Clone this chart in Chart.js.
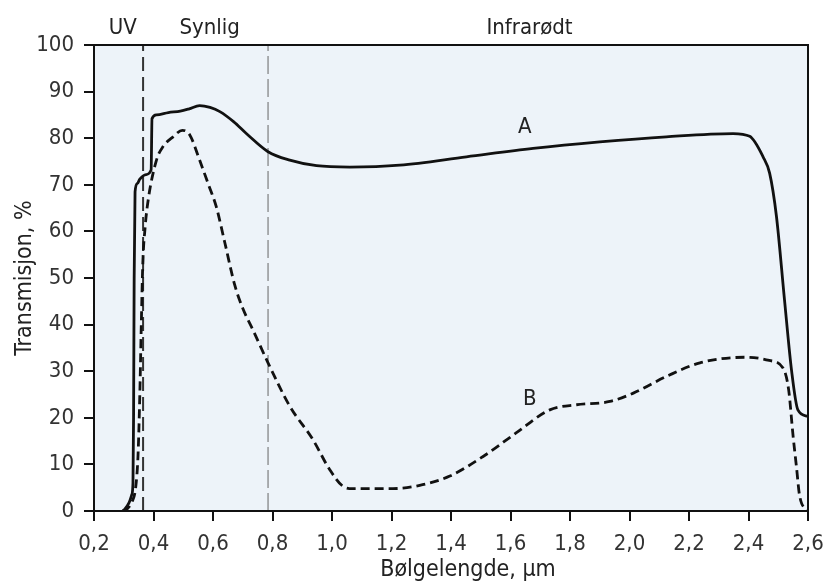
<!DOCTYPE html>
<html>
<head>
<meta charset="utf-8">
<script src="https://cdn.jsdelivr.net/npm/chart.js@4"></script>
<style>
  body { margin: 0; background: #fff; }
</style>
</head>
<body>
<canvas id="chart" width="826" height="584"></canvas>
<script>
// wavelength (um) and transmission (%) for curve A (solid)
const aX = [0.298, 0.318, 0.327, 0.331, 0.333, 0.335, 0.338, 0.346, 0.354, 0.375, 0.392, 0.395, 0.41, 0.45, 0.49, 0.52, 0.555, 0.59, 0.623, 0.67, 0.712, 0.785, 0.858, 0.948, 1.06, 1.228, 1.452, 1.676, 1.9, 2.124, 2.348, 2.404, 2.449, 2.471, 2.494, 2.521, 2.545, 2.566, 2.6];
const aY = [0, 1.8, 3.5, 6, 20, 50, 68.5, 70.3, 71.2, 72.2, 73.2, 84.2, 85, 85.5, 85.8, 86.3, 87, 86.6, 85.7, 83.5, 81, 77.1, 75.3, 74.1, 73.8, 74.2, 76, 77.8, 79.2, 80.3, 81, 80.4, 76, 72.5, 63.2, 45.3, 30, 21.7, 20.3];

// curve B (dashed)
const bX = [0.296, 0.312, 0.328, 0.34, 0.348, 0.354, 0.359, 0.364, 0.372, 0.382, 0.41, 0.432, 0.466, 0.497, 0.522, 0.555, 0.585, 0.611, 0.64, 0.673, 0.70, 0.734, 0.785, 0.858, 0.936, 0.992, 1.037, 1.071, 1.205, 1.295, 1.396, 1.508, 1.62, 1.732, 1.822, 1.934, 2.013, 2.125, 2.237, 2.393, 2.47, 2.516, 2.535, 2.55, 2.561, 2.572, 2.6];
const bY = [0, 0.5, 2, 5, 12, 25, 40, 53, 61, 66.7, 75.3, 78.2, 80.3, 81.7, 80.7, 75.3, 70, 65.3, 57.5, 48.5, 43.5, 38.9, 31.8, 22.5, 15.3, 8.9, 5.3, 4.8, 4.8, 5.5, 7.5, 11.7, 16.8, 21.7, 22.8, 23.5, 25.3, 28.9, 31.8, 33, 32.3, 30.7, 26, 16, 9.6, 3.2, 0];

// region borders (UV / synlig / infrarødt)
const dividerX = [0.365, 0.785];
const regionLabels = ["UV", "Synlig", "Infrarødt"];
const regionLabelX = [0.297, 0.589, 1.664];

// curve names
const curveLabels = ["A", "B"];
const curveLabelX = [1.648, 1.665];
const curveLabelY = [82.4, 23.9];

const xTicks = [0.2, 0.4, 0.6, 0.8, 1.0, 1.2, 1.4, 1.6, 1.8, 2.0, 2.2, 2.4, 2.6];
const yTicks = [0, 10, 20, 30, 40, 50, 60, 70, 80, 90, 100];

const FONT = "'DejaVu Sans Condensed', 'DejaVu Sans', sans-serif";
Chart.defaults.font.family = FONT;
Chart.defaults.color = "#222";

const toPts = (xs, ys) => xs.map((x, i) => ({ x: x, y: ys[i] }));

const frame = {
  id: "frame",
  beforeDraw(chart) {
    const { ctx, chartArea: a } = chart;
    ctx.save();
    ctx.fillStyle = "#edf3f9";
    ctx.fillRect(a.left, a.top, a.right - a.left, a.bottom - a.top);
    ctx.restore();
  },
  afterDraw(chart) {
    const { ctx, chartArea: a, scales } = chart;
    ctx.save();
    ctx.strokeStyle = "#111";
    ctx.lineWidth = 2;
    ctx.strokeRect(a.left, a.top, a.right - a.left, a.bottom - a.top);

    ctx.fillStyle = "#222";
    ctx.font = "22px " + FONT;
    ctx.textAlign = "center";
    ctx.textBaseline = "middle";
    regionLabels.forEach((t, i) => {
      ctx.fillText(t, scales.x.getPixelForValue(regionLabelX[i]), a.top - 17);
    });
    curveLabels.forEach((t, i) => {
      ctx.fillText(t, scales.x.getPixelForValue(curveLabelX[i]), scales.y.getPixelForValue(curveLabelY[i]));
    });
    // x axis title
    ctx.font = "23px " + FONT;
    ctx.fillText("Bølgelengde, μm", 468, 570);
    ctx.restore();
  }
};

const config = {
  type: "line",
  data: {
    datasets: [
      {
        label: "A",
        data: toPts(aX, aY),
        borderColor: "#111",
        borderWidth: 2.8,
        pointRadius: 0,
        cubicInterpolationMode: "monotone",
      },
      {
        label: "B",
        data: toPts(bX, bY),
        borderColor: "#111",
        borderWidth: 2.8,
        borderDash: [9, 5],
        pointRadius: 0,
        cubicInterpolationMode: "monotone",
      },
      {
        label: "UV",
        data: [{ x: dividerX[0], y: 0 }, { x: dividerX[0], y: 100 }],
        borderColor: "#333",
        borderWidth: 2,
        borderDash: [14, 6],
        pointRadius: 0,
      },
      {
        label: "IR",
        data: [{ x: dividerX[1], y: 0 }, { x: dividerX[1], y: 100 }],
        borderColor: "#666",
        borderWidth: 1,
        borderDash: [18, 5],
        pointRadius: 0,
      },
    ],
  },
  options: {
    responsive: false,
    animation: false,
    layout: { padding: { top: 45, right: 18, left: 0, bottom: 0 } },
    plugins: {
      legend: { display: false },
      tooltip: { enabled: false },
    },
    scales: {
      x: {
        type: "linear",
        min: 0.2,
        max: 2.6,
        afterBuildTicks: (s) => { s.ticks = xTicks.map((v) => ({ value: v })); },
        afterFit: (s) => { s.height = 73; s.paddingLeft = 0; s.paddingRight = 0; },
        ticks: {
          font: { size: 22 },
          color: "#333",
          padding: 10,
          maxRotation: 0,
          autoSkip: false,
          callback: (v) => v.toFixed(1).replace(".", ","),
        },
        grid: { drawOnChartArea: false, drawTicks: true, tickLength: 10, color: "#111", lineWidth: 2 },
        border: { display: true, color: "#111", width: 2 },
      },
      y: {
        min: 0,
        max: 100,
        afterBuildTicks: (s) => { s.ticks = yTicks.map((v) => ({ value: v })); },
        afterFit: (s) => { s.width = 94; },
        ticks: { font: { size: 22 }, color: "#333", padding: 10 },
        grid: { drawOnChartArea: false, drawTicks: true, tickLength: 10, color: "#111", lineWidth: 2 },
        border: { display: true, color: "#111", width: 2 },
        title: {
          display: true,
          text: "Transmisjon, %",
          font: { size: 23 },
          color: "#222",
          padding: { top: 11, bottom: 0 },
        },
      },
    },
  },
  plugins: [frame],
};

const myChart = new Chart(document.getElementById("chart"), config);
</script>
</body>
</html>
